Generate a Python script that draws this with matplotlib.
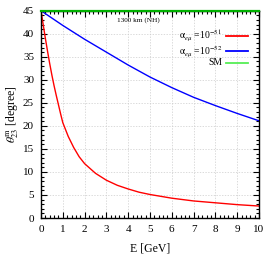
import numpy as np
import matplotlib
matplotlib.use("Agg")
import matplotlib.pyplot as plt
from matplotlib.ticker import MultipleLocator

plt.rcParams['font.family'] = ['Liberation Serif', 'DejaVu Serif']
plt.rcParams['mathtext.fontset'] = 'stix'

# data
E_red = [0, 0.1, 0.2, 0.3, 0.4, 0.5, 0.6, 0.7, 0.8, 0.9, 1.0, 1.25, 1.5, 1.75,
         2.0, 2.5, 3.0, 3.5, 4.0, 4.5, 5.0, 6.0, 7.0, 8.0, 9.0, 10.0]
theta_red = [45, 42.0, 39.0, 36.2, 33.5, 31.0, 28.7, 26.6, 24.6, 22.6, 20.7, 17.7,
             15.3, 13.3, 11.8, 9.7, 8.2, 7.1, 6.3, 5.6, 5.1, 4.3, 3.7, 3.3, 2.9, 2.6]
E_blue = [0, 1, 2, 3, 4, 5, 6, 7, 8, 9, 10]
theta_blue = [45, 41.8, 38.8, 36.0, 33.2, 30.6, 28.3, 26.2, 24.4, 22.7, 21.1]
E_sm = [0, 10]
theta_sm = [45, 45]
labels = [r'$\mathrm{\alpha}_{e\mu}$ =10$^{-51}$', r'$\mathrm{\alpha}_{e\mu}$ =10$^{-52}$', 'SM']
legend_colors = ['#ff0000', '#0000ff', '#55ee55']
title_text = '1300 km (NH)'

fig = plt.figure(figsize=(2.74, 2.57), dpi=100)
ax = fig.add_axes([41/274, 1-218/257, 218/274, (218-10.7)/257])

ax.plot(E_red, theta_red, color='#ff0000', lw=1.0)
ax.plot(E_blue, theta_blue, color='#0000ff', lw=1.0)
ax.plot(E_sm, theta_sm, color='#00b000', lw=1.6, clip_on=False, zorder=5)

ax.set_xlim(0, 10)
ax.set_ylim(0, 45)
ax.xaxis.set_major_locator(MultipleLocator(1))
ax.xaxis.set_minor_locator(MultipleLocator(0.2))
ax.yaxis.set_major_locator(MultipleLocator(5))
ax.yaxis.set_minor_locator(MultipleLocator(1))
ax.tick_params(which='both', direction='in', top=True, right=True, labelsize=8, width=0.8)
ax.tick_params(which='major', length=4, pad=5)
ax.tick_params(which='minor', length=2.2)
ax.grid(True, which='major', color='#cccccc', linestyle=(0, (2, 2)), linewidth=0.5)
for s in ax.spines.values():
    s.set_linewidth(1.0)

ax.set_xlabel('E [GeV]', fontsize=8.5, labelpad=6)
ax.set_ylabel(r'$\theta^{\rm m}_{23}$ [degree]', fontsize=8.5, labelpad=2)

ax.text(4.45, 43.0, title_text, fontsize=5.2, ha='center', va='center')

# legend (text right-aligned, sample line to the right)
row_y = [0.880, 0.804, 0.750]
for lab, col, yy in zip(labels, legend_colors, row_y):
    ax.text(0.830, yy, lab, transform=ax.transAxes, ha='right', va='center', fontsize=6.9)
    ax.plot([0.849, 0.950], [yy, yy], transform=ax.transAxes, color=col, lw=1.3)

fig.savefig('out.png', dpi=100)
